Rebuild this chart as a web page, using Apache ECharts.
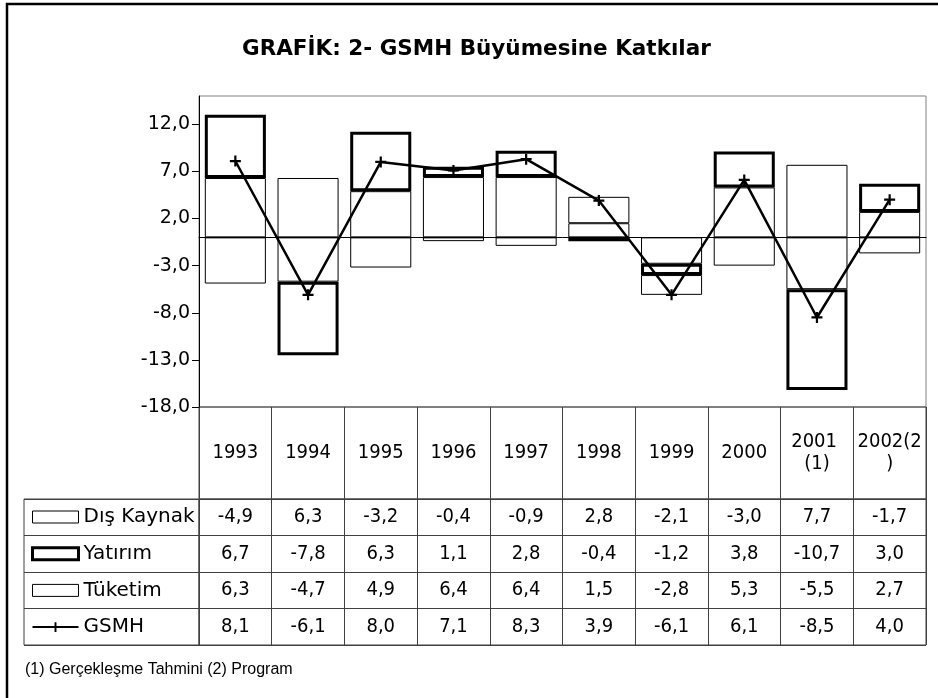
<!DOCTYPE html>
<html>
<head>
<meta charset="utf-8">
<script src="https://cdn.jsdelivr.net/npm/echarts@6/dist/echarts.min.js"></script>
<style>
  html, body { margin: 0; padding: 0; background: #fff; }
  #chart { width: 938px; height: 698px; }
</style>
</head>
<body>
<div id="chart"></div>
<script>
// data
var years = ['1993', '1994', '1995', '1996', '1997', '1998', '1999', '2000', '2001 (1)', '2002(2)'];
var disKaynak = [-4.9, 6.3, -3.2, -0.4, -0.9, 2.8, -2.1, -3.0, 7.7, -1.7];
var yatirim = [6.7, -7.8, 6.3, 1.1, 2.8, -0.4, -1.2, 3.8, -10.7, 3.0];
var tuketim = [6.3, -4.7, 4.9, 6.4, 6.4, 1.5, -2.8, 5.3, -5.5, 2.7];
var gsmh = [8.1, -6.1, 8.0, 7.1, 8.3, 3.9, -6.1, 6.1, -8.5, 4.0];
var rowNames = ['Dış Kaynak', 'Yatırım', 'Tüketim', 'GSMH'];
var yTicks = [-18, -13, -8, -3, 2, 7, 12];

var fmt = function (v) { return Number(v).toFixed(1).replace('.', ','); };

// cells of the data table: [column, row, value]
var cells = [];
[disKaynak, yatirim, tuketim, gsmh].forEach(function (arr, r) {
    arr.forEach(function (v, i) { cells.push([i, r, v]); });
});

var plus = 'path://M4,0h2v4h4v2h-4v4h-2v-4h-4v-2h4z';
var numFont = 'DejaVu Sans Condensed, DejaVu Sans';
var lineCol = '#404040';
var thin = {color: '#fff', borderColor: '#000', borderWidth: 1};

var chart = echarts.init(document.getElementById('chart'));
chart.setOption({
    animation: false,
    title: {
        text: 'GRAFİK: 2- GSMH Büyümesine Katkılar',
        left: 242, top: 38, padding: 0,
        textStyle: {fontFamily: 'DejaVu Sans', fontWeight: 'bold', fontSize: 21.5, color: '#000'}
    },
    legend: {
        orient: 'vertical', left: 31, top: 507, padding: 0,
        itemWidth: 46, itemHeight: 12, itemGap: 16.7,
        selectedMode: false,
        textStyle: {fontFamily: 'DejaVu Sans', fontSize: 20, lineHeight: 20, color: '#000'},
        data: [
            {name: 'Dış Kaynak', icon: 'rect', itemStyle: {borderWidth: 1}},
            {name: 'Yatırım', icon: 'rect', itemStyle: {borderWidth: 3}},
            {name: 'Tüketim', icon: 'rect', itemStyle: {borderWidth: 1}},
            {name: 'GSMH'}
        ]
    },
    grid: [
        {left: 199, right: 12, top: 96, bottom: 291, show: true, borderColor: '#808080', borderWidth: 1},
        {left: 199, right: 12, top: 407, bottom: 199, show: true, borderColor: lineCol, borderWidth: 1},
        {left: 199, right: 12, top: 499, bottom: 53, show: true, borderColor: lineCol, borderWidth: 1},
        {left: 24, width: 175, top: 499, bottom: 53, show: true, borderColor: lineCol, borderWidth: 1}
    ],
    xAxis: [
        {gridIndex: 0, type: 'category', data: years, z: 3,
            axisLine: {onZero: true, lineStyle: {color: '#000', width: 1}},
            axisTick: {show: false}, axisLabel: {show: false}},
        {gridIndex: 1, type: 'category', data: years,
            axisLine: {show: false}, axisTick: {show: false},
            axisLabel: {interval: 0, margin: -46, verticalAlign: 'middle', fontFamily: numFont, fontSize: 20,
                lineHeight: 22, color: '#000', width: 66, overflow: 'break'},
            splitLine: {show: true, interval: 0, lineStyle: {color: lineCol}}},
        {gridIndex: 2, type: 'category', data: years,
            axisLine: {show: false}, axisTick: {show: false}, axisLabel: {show: false},
            splitLine: {show: true, interval: 0, lineStyle: {color: lineCol}}},
        {gridIndex: 3, type: 'category', data: [''], show: false}
    ],
    yAxis: [
        {gridIndex: 0, type: 'value', min: -18, max: 15, interval: 5,
            axisLine: {show: true, lineStyle: {color: '#000'}},
            axisTick: {show: true, length: 7, customValues: yTicks, lineStyle: {color: '#000'}},
            axisLabel: {customValues: yTicks, formatter: fmt, margin: 9, fontFamily: 'DejaVu Sans', fontSize: 19, color: '#000'},
            splitLine: {show: false}},
        {gridIndex: 1, type: 'value', show: false},
        {gridIndex: 2, type: 'category', data: rowNames, inverse: true,
            axisLine: {show: false}, axisTick: {show: false}, axisLabel: {show: false},
            splitLine: {show: true, interval: 0, lineStyle: {color: lineCol}}},
        {gridIndex: 3, type: 'category', data: rowNames, inverse: true,
            axisLine: {show: false}, axisTick: {show: false}, axisLabel: {show: false},
            splitLine: {show: true, interval: 0, lineStyle: {color: lineCol}}}
    ],
    series: [
        {name: 'Tüketim', type: 'bar', stack: 'katki', data: tuketim, barCategoryGap: '16%',
            itemStyle: thin, z: 2},
        {name: 'Yatırım', type: 'bar', stack: 'katki', data: yatirim,
            itemStyle: {color: '#fff', borderColor: '#000', borderWidth: 3}, z: 4},
        {name: 'Dış Kaynak', type: 'bar', stack: 'katki', data: disKaynak,
            itemStyle: thin, z: 2},
        {name: 'GSMH', type: 'line', data: gsmh, symbol: plus, symbolSize: 11,
            lineStyle: {color: '#000', width: 2.5}, itemStyle: {color: '#000'}, z: 6},
        {name: 'tablo', type: 'scatter', xAxisIndex: 2, yAxisIndex: 2, data: cells,
            symbolSize: 0, itemStyle: {color: '#000'}, silent: true,
            label: {show: true, position: 'inside', formatter: function (p) { return fmt(p.value[2]); },
                fontFamily: numFont, fontSize: 20, color: '#000', opacity: 1, textBorderWidth: 0}}
    ],
    graphic: [
        {type: 'rect', shape: {x: 7, y: 4, width: 940, height: 700},
            style: {fill: 'none', stroke: '#000', lineWidth: 2.5}, silent: true},
        {type: 'text', x: 25, y: 670,
            style: {text: '(1) Gerçekleşme Tahmini (2) Program', fontFamily: 'Liberation Sans', fontSize: 16,
                fill: '#000', verticalAlign: 'middle'}}
    ]
});
</script>
</body>
</html>
